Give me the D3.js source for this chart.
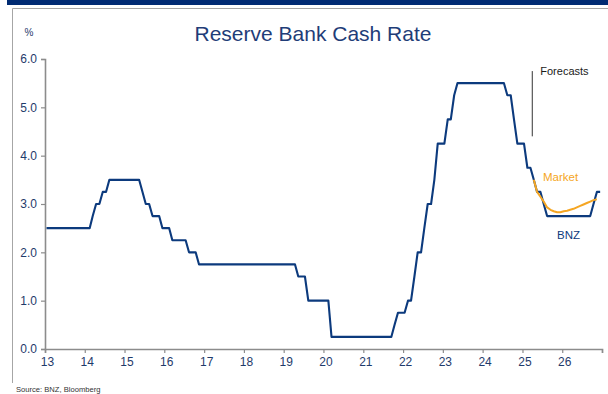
<!DOCTYPE html>
<html>
<head>
<meta charset="utf-8">
<script src="https://cdn.jsdelivr.net/npm/d3@7"></script>
<style>
  html, body { margin: 0; padding: 0; background: #fff; }
  svg { display: block; font-family: "Liberation Sans", Arial, sans-serif; }
</style>
</head>
<body>
<svg id="chart" width="608" height="394"></svg>
<script>
// ---- DATA (monthly) ----
const years = [2013, 2014, 2015, 2016, 2017, 2018, 2019, 2020, 2021, 2022, 2023, 2024, 2025, 2026];
const bnz2013 = [2.5, 2.5, 2.5, 2.5, 2.5, 2.5, 2.5, 2.5, 2.5, 2.5, 2.5, 2.5];
const bnz2014 = [2.5, 2.5, 2.75, 3.0, 3.0, 3.25, 3.25, 3.5, 3.5, 3.5, 3.5, 3.5];
const bnz2015 = [3.5, 3.5, 3.5, 3.5, 3.5, 3.25, 3.0, 3.0, 2.75, 2.75, 2.75, 2.5];
const bnz2016 = [2.5, 2.5, 2.25, 2.25, 2.25, 2.25, 2.25, 2.0, 2.0, 2.0, 1.75, 1.75];
const bnz2017 = [1.75, 1.75, 1.75, 1.75, 1.75, 1.75, 1.75, 1.75, 1.75, 1.75, 1.75, 1.75];
const bnz2018 = [1.75, 1.75, 1.75, 1.75, 1.75, 1.75, 1.75, 1.75, 1.75, 1.75, 1.75, 1.75];
const bnz2019 = [1.75, 1.75, 1.75, 1.75, 1.5, 1.5, 1.5, 1.0, 1.0, 1.0, 1.0, 1.0];
const bnz2020 = [1.0, 1.0, 0.25, 0.25, 0.25, 0.25, 0.25, 0.25, 0.25, 0.25, 0.25, 0.25];
const bnz2021 = [0.25, 0.25, 0.25, 0.25, 0.25, 0.25, 0.25, 0.25, 0.25, 0.5, 0.75, 0.75];
const bnz2022 = [0.75, 1.0, 1.0, 1.5, 2.0, 2.0, 2.5, 3.0, 3.0, 3.5, 4.25, 4.25];
const bnz2023 = [4.25, 4.75, 4.75, 5.25, 5.5, 5.5, 5.5, 5.5, 5.5, 5.5, 5.5, 5.5];
const bnz2024 = [5.5, 5.5, 5.5, 5.5, 5.5, 5.5, 5.5, 5.25, 5.25, 4.75, 4.25, 4.25];
const bnz2025 = [4.25, 3.75, 3.75, 3.5, 3.25, 3.25, 3.0, 2.75, 2.75, 2.75, 2.75, 2.75];
const bnz2026 = [2.75, 2.75, 2.75, 2.75, 2.75, 2.75, 2.75, 2.75, 2.75, 3.0, 3.25, 3.25];
const bnzByYear = [bnz2013, bnz2014, bnz2015, bnz2016, bnz2017, bnz2018, bnz2019,
                   bnz2020, bnz2021, bnz2022, bnz2023, bnz2024, bnz2025, bnz2026];

// Market pricing path: starts April 2025, ends November 2026
const marketStart = [2025, 3]; // year, month index (0 = Jan)
const market = [3.5, 3.25, 3.15, 3.05, 2.93, 2.88, 2.85, 2.83, 2.83, 2.85, 2.86, 2.88,
                2.9, 2.93, 2.96, 2.99, 3.02, 3.05, 3.08, 3.1];

const yTicks = [0, 1, 2, 3, 4, 5, 6];
const xTickYears = [2013, 2014, 2015, 2016, 2017, 2018, 2019, 2020, 2021, 2022, 2023, 2024, 2025, 2026, 2027];

const title = "Reserve Bank Cash Rate";
const unitLabel = "%";
const sourceText = "Source: BNZ, Bloomberg";

// ---- BUILD ----
const bnzSeries = [];
years.forEach((y, yi) => bnzByYear[yi].forEach((v, m) => bnzSeries.push({date: new Date(y, m, 15), v})));
const marketSeries = market.map((v, i) => ({date: new Date(marketStart[0], marketStart[1] + i, 15), v}));

const svg = d3.select("#chart");
const navy = "#0c3a7d";
const labelColor = "#1f3b6b";
const axisColor = "#8c8c8c";

// top band and frame
svg.append("rect").attr("x", 7).attr("y", 0).attr("width", 601).attr("height", 5).attr("fill", "#002b73");
svg.append("path").attr("d", "M12.5,383 V8.5 H608").attr("fill", "none").attr("stroke", "#a6a6a6").attr("stroke-width", 1);

const x = d3.scaleTime().domain([new Date(2013, 0, 1), new Date(2027, 0, 1)]).range([45, 602]);
const y = d3.scaleLinear().domain([0, 6]).range([349, 59]);

// title, unit
svg.append("text").attr("x", 313).attr("y", 41).attr("text-anchor", "middle")
  .attr("font-size", 21).attr("fill", "#1f3d78").text(title);
svg.append("text").attr("x", 29).attr("y", 36).attr("text-anchor", "middle")
  .attr("font-size", 10).attr("fill", labelColor).text(unitLabel);

// axes
const yAxis = d3.axisLeft(y).tickValues(yTicks).tickFormat(d3.format(".1f")).tickSize(4).tickPadding(4);
const gy = svg.append("g").attr("transform", "translate(45,0)").call(yAxis);
const xAxis = d3.axisBottom(x).tickValues(xTickYears.map(yy => new Date(yy, 0, 1)))
  .tickFormat(d => d.getFullYear() < 2027 ? String(d.getFullYear() % 100) : "").tickSize(4).tickPadding(4);
const gx = svg.append("g").attr("transform", "translate(0,349)").call(xAxis);

[gx, gy].forEach(g => {
  g.select(".domain").attr("stroke", axisColor).attr("stroke-width", 1.6);
  g.selectAll(".tick line").attr("stroke", axisColor).attr("stroke-width", 1.2);
  g.selectAll(".tick text").attr("fill", labelColor).attr("font-size", 12)
    .attr("font-family", "'Liberation Sans', Arial, sans-serif");
});
gx.selectAll(".tick text").attr("dx", 2);

// lines
const line = d3.line().x(d => x(d.date)).y(d => y(d.v));
svg.append("path").datum(bnzSeries).attr("d", line)
  .attr("fill", "none").attr("stroke", navy).attr("stroke-width", 2.1).attr("stroke-linejoin", "round");
svg.append("path").datum(marketSeries).attr("d", line)
  .attr("fill", "none").attr("stroke", "#f5a623").attr("stroke-width", 2).attr("stroke-linejoin", "round");

// forecast marker
const fDate = new Date(2025, 3, 1);
svg.append("line").attr("x1", x(fDate)).attr("x2", x(fDate)).attr("y1", y(5.75)).attr("y2", y(4.4))
  .attr("stroke", "#333").attr("stroke-width", 1);
svg.append("text").attr("x", x(fDate) + 8).attr("y", 75).attr("font-size", 11).attr("fill", "#1a1a1a").text("Forecasts");
svg.append("text").attr("x", 543).attr("y", 181).attr("font-size", 11.5).attr("fill", "#f5a623").text("Market");
svg.append("text").attr("x", 557).attr("y", 239).attr("font-size", 11.5).attr("fill", navy).text("BNZ");

// source
svg.append("text").attr("x", 16).attr("y", 392).attr("font-size", 7.6).attr("fill", "#333").text(sourceText);
</script>
</body>
</html>
